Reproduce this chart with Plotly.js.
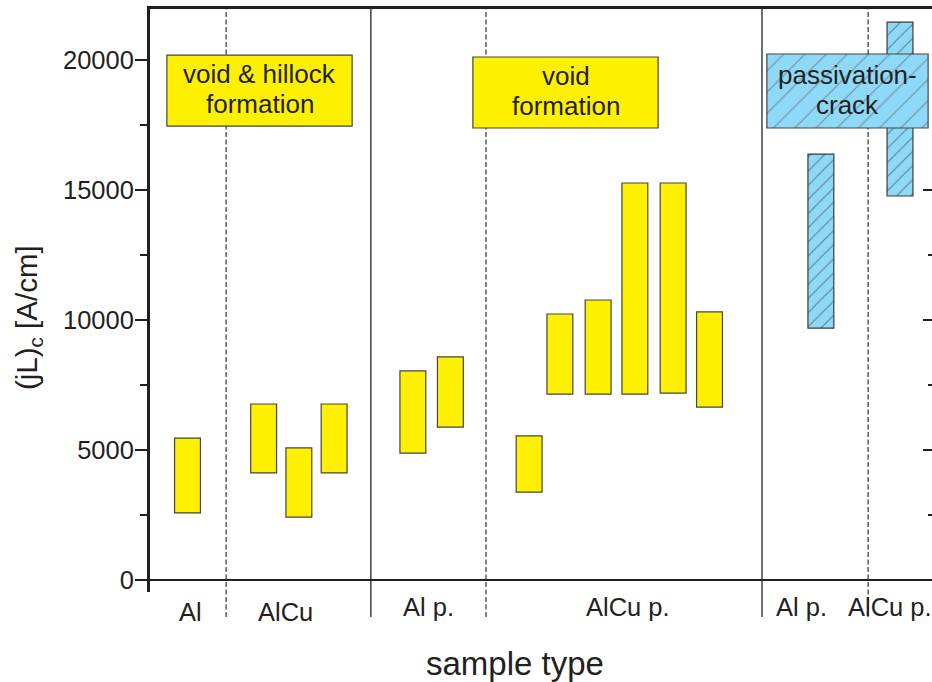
<!DOCTYPE html>
<html><head><meta charset="utf-8">
<script src="https://cdn.plot.ly/plotly-3.0.1.min.js"></script>
<style>html,body{margin:0;padding:0;overflow:hidden;background:#fff}#chart{width:936px;height:682px}</style>
</head><body><div id="chart"></div>
<script>
// sample groups along the x axis
const groupNames = ['Al', 'AlCu', 'Al p.', 'AlCu p.', 'Al p.', 'AlCu p.'];
const groupLabelX = [1.09, 3.61, 7.43, 12.75, 17.36, 19.73];
const solidSeparatorX = [5.89, 16.32];
const dashedSeparatorX = [2.03, 8.96, 19.15];

// unpassivated / passivated samples without cracks (yellow)
const sampleX = [1.0, 3.03, 3.97, 4.91, 7.01, 8.01, 10.11, 10.93, 11.95, 12.93, 13.95, 14.92];
const sampleLow = [2580, 4120, 2420, 4120, 4880, 5880, 3380, 7150, 7150, 7150, 7190, 6650];
const sampleHigh = [5460, 6770, 5080, 6770, 8040, 8580, 5540, 10230, 10770, 15270, 15270, 10310];

// passivation-crack samples (blue, hatched)
const passX = [17.89, 20.0];
const passLow = [9690, 14770];
const passHigh = [16380, 21460];

// failure mode regions
const regionLines = [['void & hillock', 'formation'], ['void', 'formation'], ['passivation-', 'crack']];
const regionX0 = [0.45, 8.61, 16.45];
const regionX1 = [5.39, 13.55, 20.75];
const regionLow = [17460, 17385, 17385];
const regionHigh = [20190, 20115, 20230];
const regionHatched = [false, false, true];

// right-axis tick values
const rightMajor = [0, 5000, 10000, 15000];
const rightMinor = [2500, 7500, 12500];

const INK = '#231f20';
const YEL = '#FFF000';
const BLUE = '#8ED8F8';
const FONT = 'Liberation Sans, Arial, sans-serif';
const BARW = 0.69;

const traces = [
  {
    type: 'bar', x: sampleX, base: sampleLow,
    y: sampleHigh.map((h, i) => h - sampleLow[i]),
    width: BARW, hoverinfo: 'skip',
    marker: {color: YEL, line: {color: '#444', width: 1.2}}
  },
  {
    type: 'bar', x: passX, base: passLow,
    y: passHigh.map((h, i) => h - passLow[i]),
    width: BARW, hoverinfo: 'skip',
    marker: {color: BLUE, line: {color: '#3a3a3a', width: 1.2},
      pattern: {shape: '/', fillmode: 'overlay', fgcolor: INK, size: 10, solidity: 0.1}}
  },
  {
    type: 'bar',
    x: regionX0.map((a, i) => (a + regionX1[i]) / 2),
    width: regionX0.map((a, i) => regionX1[i] - a),
    base: regionLow,
    y: regionHigh.map((h, i) => h - regionLow[i]),
    hoverinfo: 'skip',
    marker: {
      color: regionHatched.map(h => h ? BLUE : YEL),
      line: {color: '#444', width: 1.2},
      pattern: {shape: regionHatched.map(h => h ? '/' : ''), fillmode: 'overlay', fgcolor: INK, size: 15, solidity: 0.07}
    }
  },
  {type: 'scatter', x: [], y: [], yaxis: 'y2', hoverinfo: 'skip', showlegend: false}
];

const bottomExt = -0.0429;
const shapes = [];
solidSeparatorX.forEach(x => shapes.push({type: 'line', xref: 'x', yref: 'paper', x0: x, x1: x, y0: bottomExt, y1: 1,
  layer: 'below', line: {color: '#333', width: 1.4}}));
dashedSeparatorX.forEach(x => shapes.push({type: 'line', xref: 'x', yref: 'paper', x0: x, x1: x, y0: bottomExt, y1: 1,
  layer: 'below', line: {color: '#333', width: 1.2, dash: '5px,2.5px'}}));

const annotations = [];
const lineShift = [16.5, -13.5];
regionLines.forEach((lines, i) => lines.forEach((t, k) => annotations.push({
  text: t, xref: 'x', yref: 'y', x: (regionX0[i] + regionX1[i]) / 2, y: (regionLow[i] + regionHigh[i]) / 2,
  yshift: lineShift[k],
  showarrow: false, xanchor: 'center', yanchor: 'middle', font: {family: FONT, size: 26, color: INK}
})));
const labelYOffset = [-0.0343, -0.0343, -0.0257, -0.0257, -0.0257, -0.0257];
groupNames.forEach((g, i) => annotations.push({
  text: g, xref: 'x', yref: 'paper', x: groupLabelX[i], y: labelYOffset[i],
  showarrow: false, xanchor: 'center', yanchor: 'middle', font: {family: FONT, size: 25.5, color: INK}
}));
annotations.push({text: 'sample type', xref: 'paper', yref: 'paper', x: 0.4656, y: -0.1218,
  showarrow: false, xanchor: 'center', yanchor: 'middle', font: {family: FONT, size: 33, color: INK}});
annotations.push({text: '(jL)<sub>c</sub> [A/cm]', xref: 'paper', yref: 'paper', x: -0.1543, y: 0.47,
  textangle: -90, showarrow: false, xanchor: 'center', yanchor: 'middle', font: {family: FONT, size: 29.5, color: INK}});

const yRange = [-461.5, 21961.5];
const layout = {
  width: 936, height: 682,
  margin: {l: 150, r: 2, t: 9, b: 90, pad: 0},
  paper_bgcolor: '#fff', plot_bgcolor: '#fff',
  showlegend: false, barmode: 'overlay',
  font: {family: FONT, color: INK},
  xaxis: {range: [0, 20.9067], side: 'top', showline: true, linewidth: 3, linecolor: INK,
    ticks: '', showticklabels: false, showgrid: false, zeroline: false, fixedrange: true},
  yaxis: {range: yRange, showline: true, linewidth: 3, linecolor: INK,
    ticks: 'outside', ticklen: 12, tickwidth: 2.5, tickcolor: INK, tick0: 0, dtick: 5000, tickformat: 'd',
    ticklabelstandoff: -4,
    minor: {dtick: 2500, ticks: 'outside', ticklen: 7, tickwidth: 2.5, tickcolor: INK},
    tickfont: {family: FONT, size: 25.5, color: INK},
    showgrid: false, zeroline: true, zerolinecolor: INK, zerolinewidth: 2.5, fixedrange: true},
  yaxis2: {range: yRange, overlaying: 'y', side: 'right', showline: true, linewidth: 3, linecolor: INK,
    tickmode: 'array', tickvals: rightMajor, ticks: 'inside', ticklen: 11, tickwidth: 2.5, tickcolor: INK,
    minor: {tickmode: 'array', tickvals: rightMinor, ticks: 'inside', ticklen: 6, tickwidth: 2.5, tickcolor: INK},
    showticklabels: false, showgrid: false, zeroline: false, fixedrange: true},
  shapes: shapes,
  annotations: annotations
};

Plotly.newPlot('chart', traces, layout, {displayModeBar: false, staticPlot: true});
</script>
</body></html>
